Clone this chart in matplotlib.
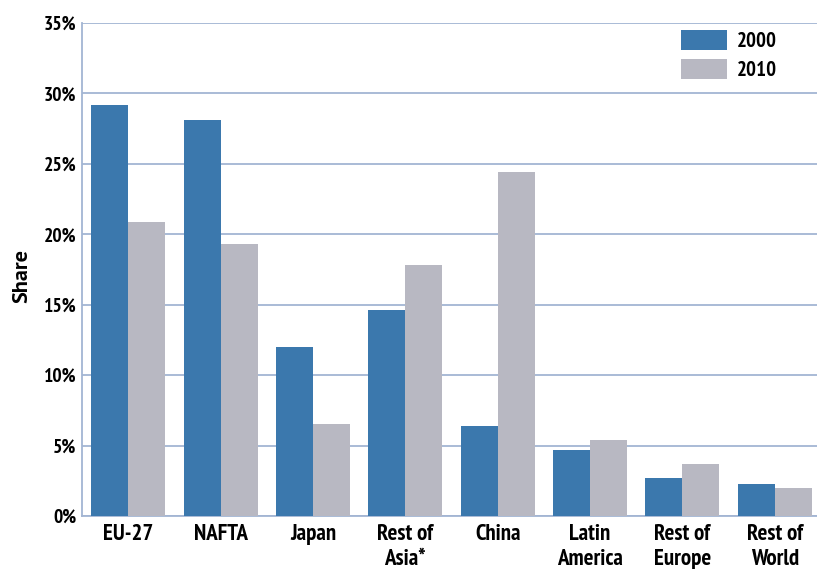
import matplotlib
matplotlib.use("Agg")
import matplotlib.pyplot as plt
from matplotlib import font_manager as fm
import numpy as np

categories = ["EU-27", "NAFTA", "Japan", "Rest of\nAsia*", "China",
              "Latin\nAmerica", "Rest of\nEurope", "Rest of\nWorld"]
share_2000 = [29.2, 28.1, 12.0, 14.6, 6.4, 4.7, 2.7, 2.3]
share_2010 = [20.9, 19.3, 6.5, 17.8, 24.4, 5.4, 3.7, 2.0]
yticks = [0, 5, 10, 15, 20, 25, 30, 35]
series_labels = ["2000", "2010"]

names = {f.name for f in fm.fontManager.ttflist}
prefs = ["PT Sans Narrow", "Fira Sans Condensed", "Open Sans Condensed",
         "Asap Condensed", "Barlow Semi Condensed"]
fams = [p for p in prefs if p in names][:1] + ["DejaVu Sans"]
plt.rcParams['font.family'] = fams
share_fams = [p for p in ["PT Sans", "Open Sans"] if p in names][:1] + ["DejaVu Sans"]

W, H = 817, 569
fig = plt.figure(figsize=(W / 100, H / 100), dpi=100)
left, right, top, bottom = 82, 817, 23, 516
ax = fig.add_axes([left / W, 1 - bottom / H, (right - left) / W, (bottom - top) / H])

blue = "#3b78ad"
gray = "#b8b8c2"
grid = "#a3b5d3"

x = np.arange(len(categories))
bw = 0.4
ax.bar(x - bw / 2, share_2000, bw, color=blue, label=series_labels[0], zorder=3)
ax.bar(x + bw / 2, share_2010, bw, color=gray, label=series_labels[1], zorder=3)

ax.set_ylim(0, 35)
ax.set_xlim(-0.5, (817 - 128) / 92.4)
ax.set_yticks(yticks)
ax.set_yticklabels([f"{t}%" for t in yticks])
ax.set_xticks(x)
ax.set_xticklabels(categories)
ax.yaxis.grid(True, color=grid, linewidth=1.3, zorder=0)
ax.set_axisbelow(True)
for s in ["top", "right"]:
    ax.spines[s].set_visible(False)
for s in ["left", "bottom"]:
    ax.spines[s].set_color(grid)
    ax.spines[s].set_linewidth(1.3)
ax.tick_params(axis="both", length=0)
ax.tick_params(axis="y", pad=4)
ax.tick_params(axis="x", pad=6)

for lab in ax.get_yticklabels():
    lab.set_fontsize(14)
    lab.set_fontweight("bold")
for lab in ax.get_xticklabels():
    lab.set_fontsize(16.5)
    lab.set_fontweight("bold")
    lab.set_linespacing(1.25)
    lab.set_verticalalignment("top")

fig.text(22 / W, 1 - 276 / H, "Share", rotation=90, ha="center", va="center",
         fontsize=16, fontweight="bold", family=share_fams)

leg = ax.legend(loc="upper left", bbox_to_anchor=((681 - left) / (right - left), (bottom - 30) / (bottom - top)),
                frameon=False, borderpad=0, borderaxespad=0,
                handlelength=2.2, handleheight=1.1, handletextpad=0.5, labelspacing=0.4,
                prop=dict(size=15, weight="bold"))

fig.savefig("out.png", dpi=100)
